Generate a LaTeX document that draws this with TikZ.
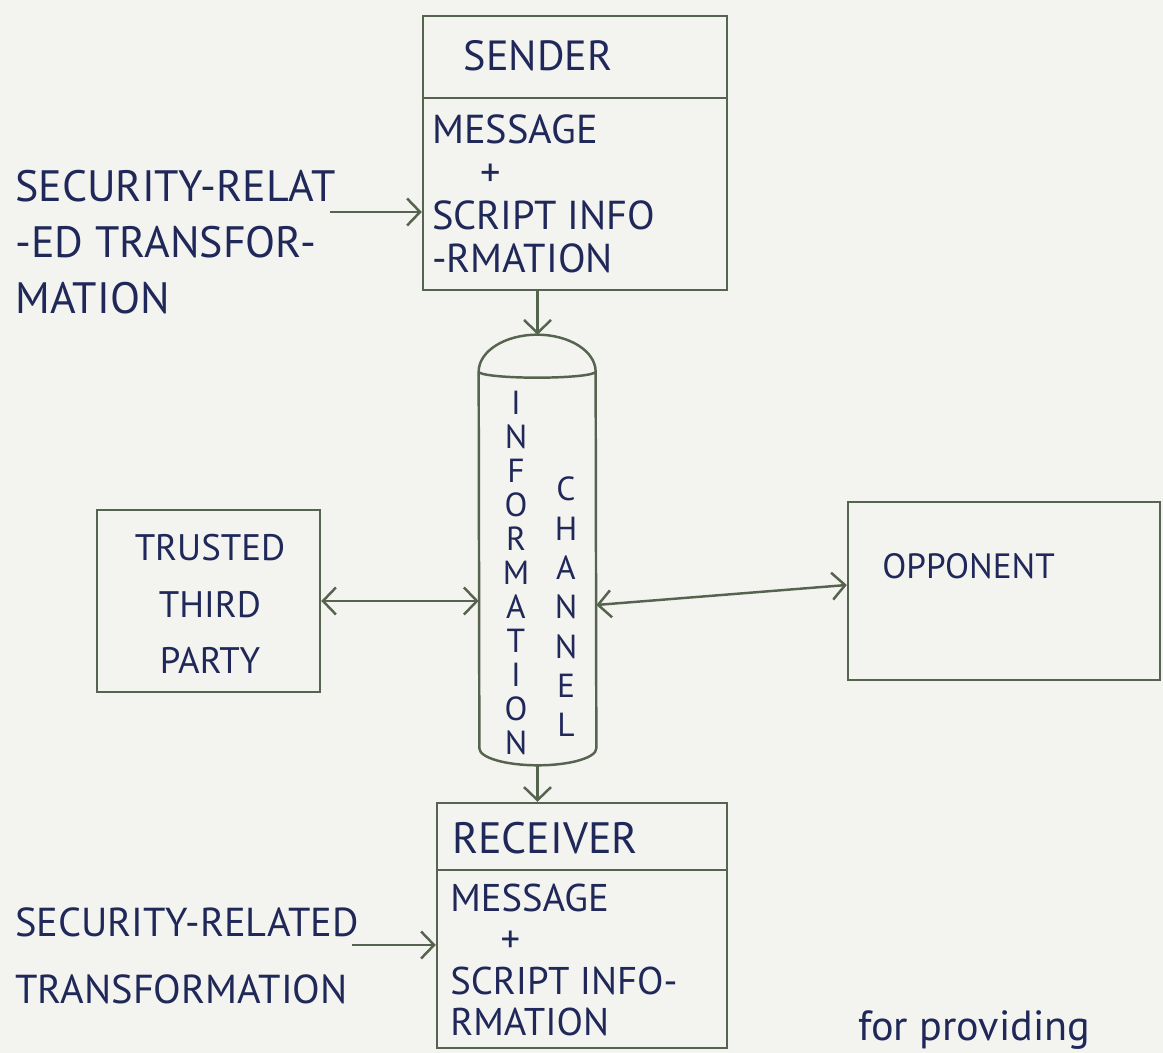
\documentclass[tikz,border=0pt]{standalone}
\usepackage{fontspec}
\setmainfont{PT Sans}
\usetikzlibrary{arrows.meta,calc,positioning}
\definecolor{ink}{HTML}{1F2858}
\definecolor{pencil}{HTML}{56634F}
\definecolor{paper}{HTML}{F3F3EF}
\tikzset{>={Straight Barb[length=2.6mm,width=5.4mm]},
  box/.style={draw=pencil,line width=1.4pt,inner sep=0pt},
  rule/.style={draw=pencil,line width=1.4pt},
  arr/.style={->,draw=pencil,line width=1.4pt},
  biarr/.style={<->,draw=pencil,line width=1.4pt},
  hand/.style={text=ink,inner sep=0pt,align=left},
  letters/.style={text=ink,inner sep=0pt,align=center}}

\begin{document}
\begin{tikzpicture}[x=0.02cm,y=-0.02cm]
\useasboundingbox (0,0) rectangle (1163,1053);
\clip (0,0) rectangle (1163,1053);
\fill[paper] (0,0) rectangle (1163,1053);
% sender
\node[box,minimum width=6.08cm,minimum height=5.48cm] (sender) at (575,153) {};
\draw[rule] (sender.west |- 0,98) -- (sender.east |- 0,98);
\node[hand,font=\fontsize{24}{26}\selectfont] (sendertitle) at (538,56) {SENDER};
\node[hand,anchor=west,font=\fontsize{23}{24.5}\selectfont] (senderbody) at (432,194)
  {MESSAGE\\\hspace*{1.2em}+\\SCRIPT INFO\\-RMATION};
\node[hand,anchor=west,font=\fontsize{25}{32}\selectfont] (secin) at (15,242)
  {SECURITY-RELAT\\-ED TRANSFOR-\\MATION};
\coordinate (secfrom) at (330,212);
\draw[arr] (secfrom) -- (secfrom -| sender.west);
% channel
\node[minimum width=2.34cm,minimum height=8.6cm,inner sep=0pt] (channel) at (537.5,550) {};
\draw[rule] ([yshift=-0.74cm]channel.north west)
  arc[start angle=180,end angle=0,x radius=1.17cm,y radius=0.74cm]
  -- ([yshift=0.34cm]channel.south east)
  arc[start angle=0,end angle=-180,x radius=1.17cm,y radius=0.34cm] -- cycle;
\draw[rule] ([yshift=-0.74cm]channel.north west)
  arc[start angle=180,end angle=360,x radius=1.17cm,y radius=0.12cm];
\node[letters,font=\fontsize{19}{19.3}\selectfont] (info) at (516,573)
  {I\\N\\F\\O\\R\\M\\A\\T\\I\\O\\N};
\node[letters,font=\fontsize{19}{22.4}\selectfont] (chan) at (566,607)
  {C\\H\\A\\N\\N\\E\\L};
\draw[arr] (channel.north |- sender.south) -- (channel.north);
% trusted third party
\node[box,minimum width=4.46cm,minimum height=3.64cm] (ttp) at (208.5,601) {};
\node[hand,align=center,font=\fontsize{21}{32}\selectfont] (ttptext) at (210,604)
  {TRUSTED\\THIRD\\PARTY};
\draw[biarr] (ttp.east) -- (ttp.east -| channel.west);
% opponent
\node[box,minimum width=6.24cm,minimum height=3.56cm] (opponent) at (1004,591) {};
\node[hand,anchor=west,font=\fontsize{20}{24}\selectfont] (opptext) at (882,566) {OPPONENT};
\draw[biarr] ([yshift=-1.1cm]channel.east) -- ([yshift=0.12cm]opponent.west);
% receiver
\node[box,minimum width=5.8cm,minimum height=4.9cm] (receiver) at (582,925.5) {};
\draw[rule] (receiver.west |- 0,870) -- (receiver.east |- 0,870);
\node[hand,font=\fontsize{25}{26}\selectfont] (receivertitle) at (545,838) {RECEIVER};
\node[hand,anchor=west,font=\fontsize{22}{23.5}\selectfont] (receiverbody) at (450,960)
  {MESSAGE\\\hspace*{1.3em}+\\SCRIPT INFO-\\RMATION};
\draw[arr] (channel.south) -- (channel.south |- receiver.north);
\node[hand,anchor=west,font=\fontsize{23}{38}\selectfont] (recin) at (15,956)
  {SECURITY-RELATED\\TRANSFORMATION};
\coordinate (recfrom) at (352,945);
\draw[arr] (recfrom) -- (recfrom -| receiver.west);
% note at the page foot
\node[hand,anchor=base west,font=\fontsize{24}{26}\selectfont] (note) at (858,1040) {for providing};
\end{tikzpicture}
\end{document}
